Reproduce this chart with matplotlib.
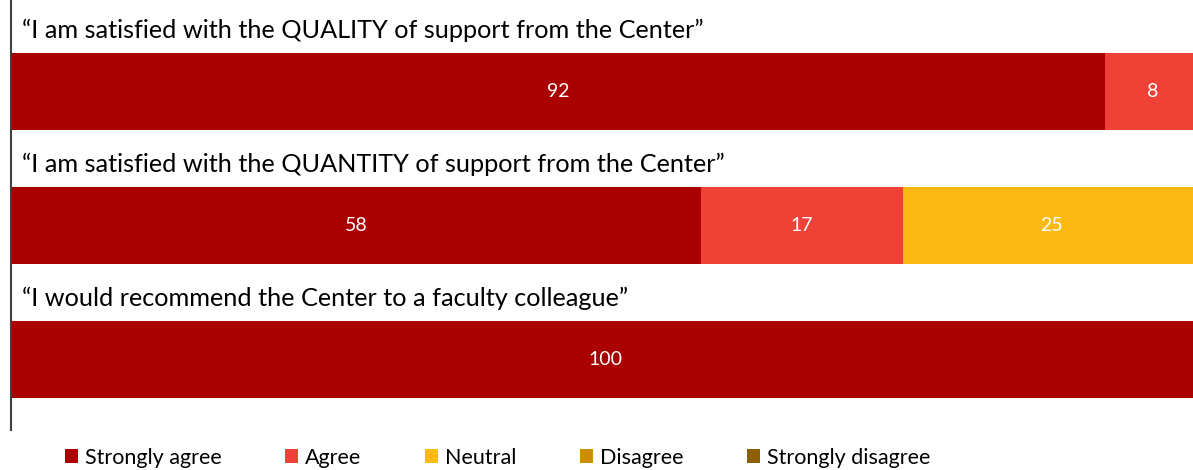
import numpy as np
import matplotlib.pyplot as plt
from matplotlib.patches import Patch

plt.rcParams['font.family'] = ['Lato', 'DejaVu Sans']

questions = [
    "\u201cI am satisfied with the QUALITY of support from the Center\u201d",
    "\u201cI am satisfied with the QUANTITY of support from the Center\u201d",
    "\u201cI would recommend the Center to a faculty colleague\u201d",
]
categories = ["Strongly agree", "Agree", "Neutral", "Disagree", "Strongly disagree"]
strongly_agree = [92, 58, 100]
agree = [8, 17, 0]
neutral = [0, 25, 0]
disagree = [0, 0, 0]
strongly_disagree = [0, 0, 0]
colors = ["#AA0000", "#EF4136", "#FDB913", "#CC8E00", "#8B6000"]

series = [strongly_agree, agree, neutral, disagree, strongly_disagree]

fig = plt.figure(figsize=(11.93, 4.70), dpi=100)
# bars run slightly past the right edge, as in the original
ax = fig.add_axes([11 / 1193, 1 - 430 / 470, 1189 / 1193, 430 / 470])

y = np.arange(len(questions))
left = np.zeros(len(questions))
for vals, col in zip(series, colors):
    vals = np.array(vals, dtype=float)
    bars = ax.barh(y, vals, left=left, height=0.575, color=col, edgecolor='none')
    for b, v in zip(bars, vals):
        if v > 0:
            ax.text(b.get_x() + b.get_width() / 2, b.get_y() + b.get_height() / 2,
                    f"{int(v)}", ha='center', va='center', color='white', fontsize=14)
    left += vals

for i, q in enumerate(questions):
    ax.text(0.9, i - 0.459, q, ha='left', va='center', fontsize=18.2, color='black')

ax.set_xlim(0, 100)
ax.set_ylim(2.526, -0.683)
ax.set_xticks([])
ax.set_yticks([])
for s in ['top', 'right', 'bottom']:
    ax.spines[s].set_visible(False)
ax.spines['left'].set_color('#404040')
ax.spines['left'].set_linewidth(1.5)

handles = [Patch(facecolor=c, edgecolor='none') for c in colors]
fig.legend(handles, categories, loc='center left', bbox_to_anchor=(56 / 1193, 1 - 458 / 470),
           ncol=5, frameon=False, fontsize=15.5, handlelength=0.63, handleheight=0.63,
           handletextpad=0.3, columnspacing=2.95, borderaxespad=0)

fig.savefig("out.png", dpi=100)
